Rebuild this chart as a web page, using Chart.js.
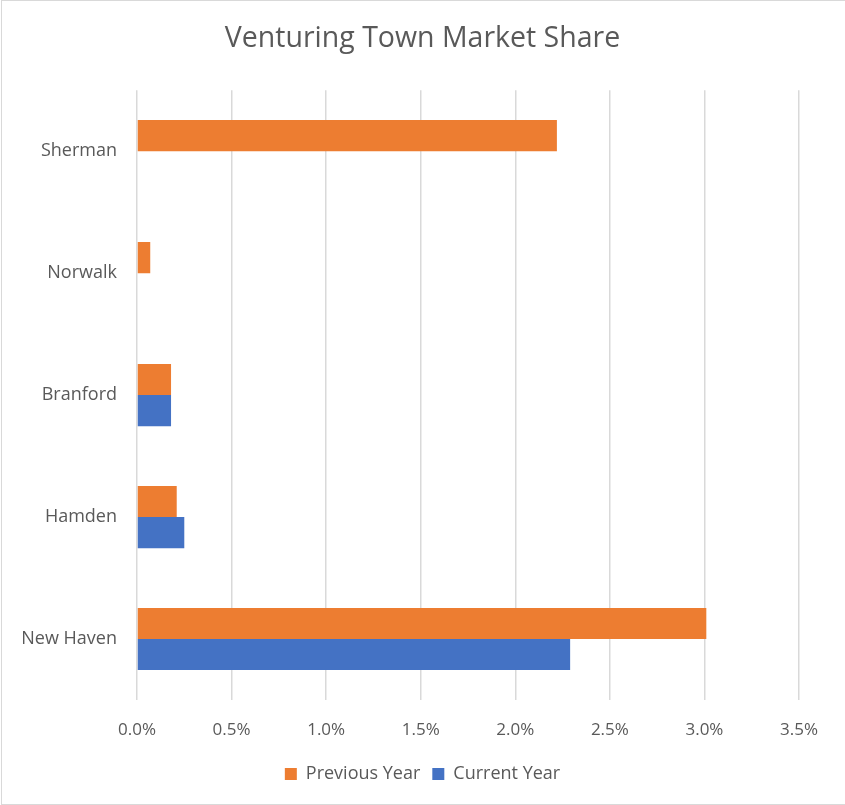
<!DOCTYPE html>
<html>
<head>
<meta charset="utf-8">
<script src="https://cdn.jsdelivr.net/npm/chart.js@4/dist/chart.umd.min.js"></script>
<style>
  html, body { margin: 0; padding: 0; background: #fff; }
  #wrap { width: 845px; height: 805px; position: relative; }
</style>
</head>
<body>
<div id="wrap"><canvas id="chart"></canvas></div>
<script>
// data (percent values)
const towns = ['Sherman', 'Norwalk', 'Branford', 'Hamden', 'New Haven'];
const previousYear = [2.22, 0.07, 0.18, 0.21, 3.01];
const currentYear = [0, 0, 0.18, 0.25, 2.29];
const seriesNames = ['Previous Year', 'Current Year'];
const tickMax = 3.5;
const tickStep = 0.5;

const FONT = "'Open Sans', 'Liberation Sans', sans-serif";
const GREY_TEXT = '#595959';
const GRID = '#d9d9d9';

// light frame around the chart area like the office chart
const framePlugin = {
    id: 'frame',
    beforeDraw(chart) {
        const c = chart.ctx;
        c.save();
        c.fillStyle = '#fff';
        c.fillRect(0, 0, chart.width, chart.height);
        c.strokeStyle = GRID;
        c.lineWidth = 1;
        c.strokeRect(1.5, 0.5, chart.width - 1, chart.height - 1);
        c.restore();
    }
};

const ctx = document.getElementById('chart');

new Chart(ctx, {
    type: 'bar',
    data: {
        labels: towns,
        datasets: [
            {
                label: seriesNames[0],
                data: previousYear,
                backgroundColor: '#ED7D31',
                borderWidth: 0
            },
            {
                label: seriesNames[1],
                data: currentYear,
                backgroundColor: '#4472C4',
                borderWidth: 0
            }
        ]
    },
    options: {
        indexAxis: 'y',
        responsive: true,
        maintainAspectRatio: false,
        animation: false,
        layout: { padding: { left: 0, right: 0, top: 0, bottom: 12 } },
        datasets: {
            bar: { categoryPercentage: 0.51, barPercentage: 1.0 }
        },
        plugins: {
            title: {
                display: true,
                text: 'Venturing Town Market Share',
                color: GREY_TEXT,
                font: { family: FONT, size: 28.5, weight: 'normal' },
                padding: { top: 22, bottom: 34 }
            },
            legend: {
                position: 'bottom',
                labels: {
                    color: GREY_TEXT,
                    font: { family: FONT, size: 18 },
                    boxWidth: 12,
                    boxHeight: 12,
                    padding: 12
                }
            },
            tooltip: { enabled: false }
        },
        scales: {
            x: {
                min: 0,
                max: tickMax,
                grid: { color: GRID, lineWidth: 1.5, drawTicks: false },
                border: { display: false },
                ticks: {
                    stepSize: tickStep,
                    padding: 20,
                    color: GREY_TEXT,
                    font: { family: FONT, size: 17 },
                    callback: v => v.toFixed(1) + '%'
                },
                afterFit(scale) { scale.height = 53; }
            },
            y: {
                grid: { display: false, drawTicks: false },
                border: { display: false },
                ticks: {
                    padding: 20,
                    color: GREY_TEXT,
                    font: { family: FONT, size: 18 }
                },
                afterFit(scale) { scale.width = 137; }
            },
            // empty right-hand spacer so the title stays centred on the canvas
            spacer: {
                type: 'category',
                axis: 'y',
                position: 'right',
                grid: { display: false, drawTicks: false },
                border: { display: false },
                ticks: { display: false },
                afterFit(scale) { scale.width = 46; }
            }
        }
    },
    plugins: [framePlugin]
});
</script>
</body>
</html>
